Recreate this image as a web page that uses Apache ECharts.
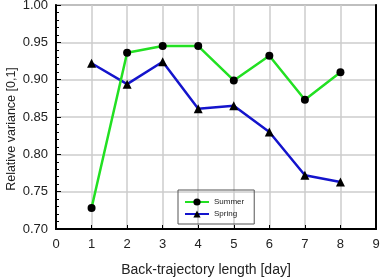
<!DOCTYPE html>
<html>
<head>
<meta charset="utf-8">
<script src="https://cdn.jsdelivr.net/npm/echarts@6/dist/echarts.min.js"></script>
<style>
  html, body { margin: 0; padding: 0; background: #fff; }
  #chart { width: 380px; height: 277px; }
</style>
</head>
<body>
<div id="chart"></div>
<script>
// back-trajectory length in days
var days = [1, 2, 3, 4, 5, 6, 7, 8];
// relative variance per season
var summer = [0.728, 0.936, 0.945, 0.945, 0.899, 0.932, 0.873, 0.910];
var spring = [0.922, 0.894, 0.924, 0.861, 0.865, 0.830, 0.772, 0.763];
var seriesNames = ['Summer', 'Spring'];

function pairs(xs, ys) {
  return xs.map(function (x, i) { return [x, ys[i]]; });
}

var chart = echarts.init(document.getElementById('chart'));
var font = 'Liberation Sans, Arial, sans-serif';

chart.setOption({
  animation: false,
  textStyle: { fontFamily: font },
  grid: {
    left: 56, right: 4, top: 5, bottom: 48,
    outerBoundsMode: 'none', containLabel: false,
    show: true, borderColor: '#999', borderWidth: 2
  },
  // y axis title, sits a bit below the plot middle like the original
  graphic: [{
    type: 'text',
    x: 12, y: 129,
    rotation: Math.PI / 2,
    style: {
      text: 'Relative variance [0,1]',
      font: '12.5px ' + font,
      fill: '#222',
      align: 'center',
      verticalAlign: 'middle'
    }
  }],
  legend: {
    data: seriesNames,
    orient: 'vertical',
    left: 178, top: 190,
    padding: [8, 10, 6, 6],
    itemGap: 4,
    itemWidth: 24, itemHeight: 9,
    borderColor: '#555', borderWidth: 1,
    textStyle: { fontSize: 8, color: '#222', fontFamily: font }
  },
  xAxis: [{
    type: 'value', min: 0, max: 9, interval: 1,
    name: 'Back-trajectory length [day]',
    nameLocation: 'middle', nameGap: 34,
    nameTextStyle: { fontSize: 14, color: '#222', padding: [0, 20, 0, 0] },
    axisLine: { lineStyle: { color: '#000', width: 2 } },
    axisTick: { inside: true, length: 4, lineStyle: { color: '#000' } },
    axisLabel: { fontSize: 13, color: '#222', margin: 9 },
    splitLine: { lineStyle: { color: '#ccc', width: 1.5 } }
  }],
  yAxis: [{
    type: 'value', min: 0.7, max: 1.0, interval: 0.05,
    axisLine: { lineStyle: { color: '#000', width: 2 } },
    axisTick: { inside: true, length: 5, lineStyle: { color: '#000' } },
    minorTick: { show: true, splitNumber: 5, length: 3, lineStyle: { color: '#000' } },
    axisLabel: {
      fontSize: 13, color: '#222', margin: 8,
      formatter: function (v) { return v.toFixed(2); }
    },
    splitLine: { lineStyle: { color: '#ccc', width: 1.5 } }
  }, {
    type: 'value', min: 0.7, max: 1.0, position: 'right',
    axisLine: { show: true, lineStyle: { color: '#000', width: 2 } },
    axisTick: { show: false }, axisLabel: { show: false },
    splitLine: { show: false }
  }],
  series: [{
    name: 'Summer', type: 'line',
    data: pairs(days, summer),
    symbol: 'circle', symbolSize: 8,
    lineStyle: { color: '#22e022', width: 2.5 },
    itemStyle: { color: '#000' },
    z: 3
  }, {
    name: 'Spring', type: 'line',
    data: pairs(days, spring),
    symbol: 'triangle', symbolSize: 9,
    lineStyle: { color: '#1414cc', width: 2.5 },
    itemStyle: { color: '#000' },
    z: 2
  }]
});
</script>
</body>
</html>
